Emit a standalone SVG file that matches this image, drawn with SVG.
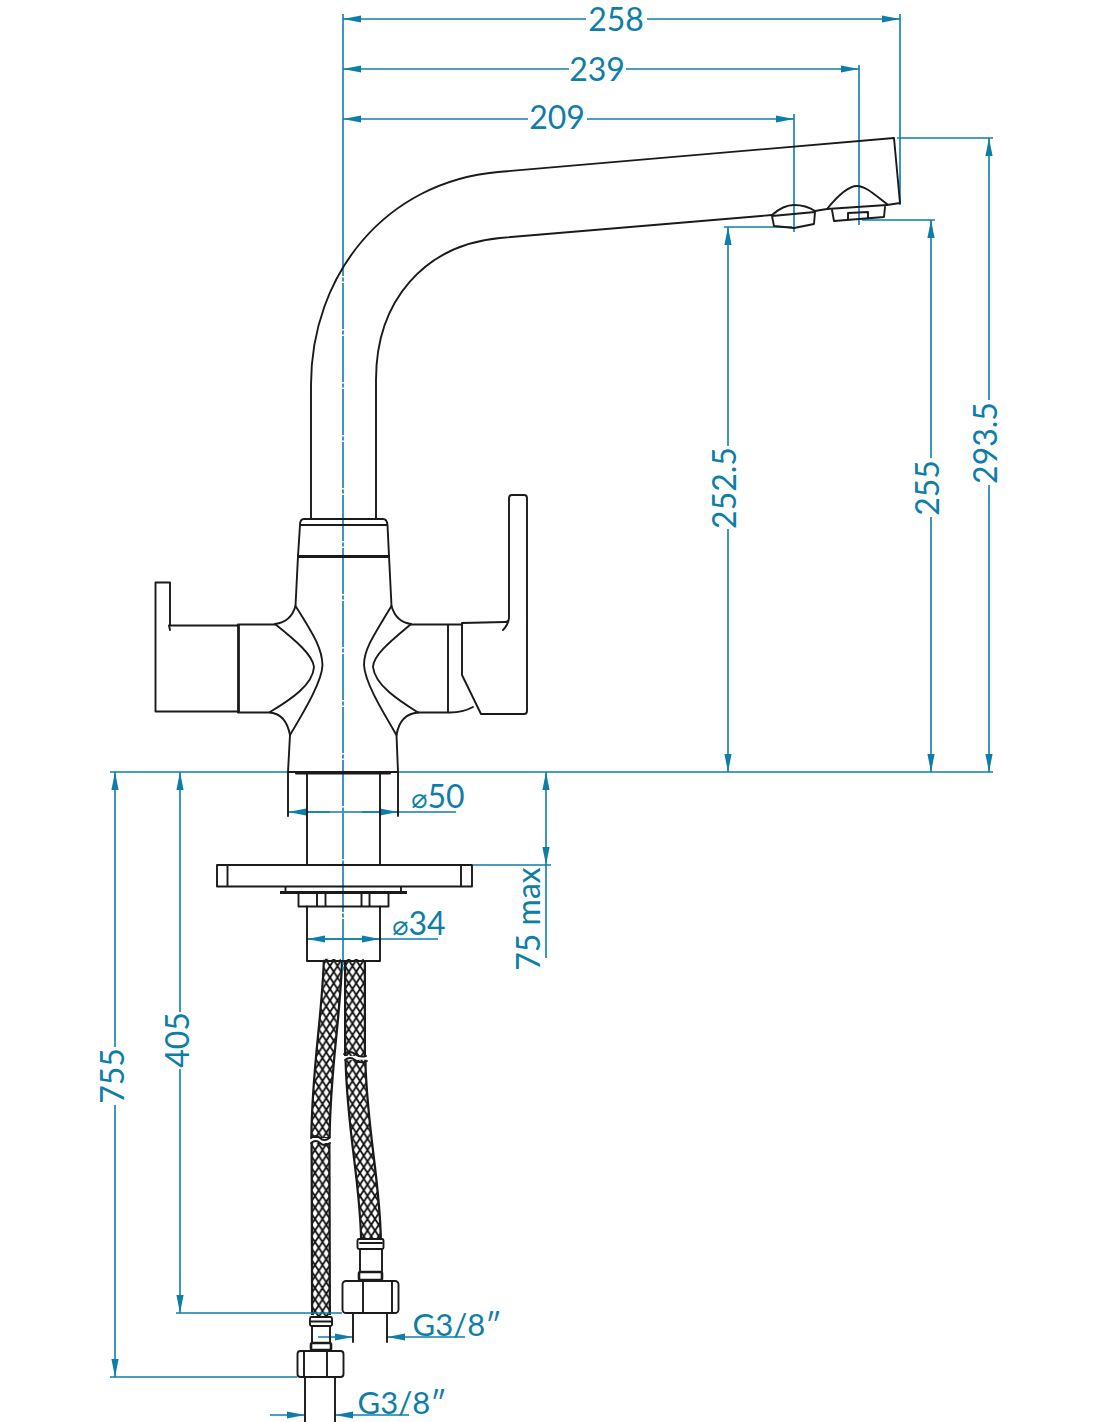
<svg xmlns="http://www.w3.org/2000/svg" width="1100" height="1422" viewBox="0 0 1100 1422">
<style>
.k{fill:none;stroke:#1a1a1a;stroke-width:1.9;stroke-linejoin:round;stroke-linecap:round}
.kw{fill:#fff;stroke:#1a1a1a;stroke-width:1.9}
.kd{fill:#fff;stroke:#1a1a1a;stroke-width:2.6}
.kt{fill:none;stroke:#1a1a1a;stroke-width:2.8;stroke-linecap:butt}
.d{fill:none;stroke:#0e7ea8;stroke-width:1.6}
.a{marker-end:url(#arr)}
.b{marker-start:url(#arrs);marker-end:url(#arr)}
.s{marker-start:url(#arrs)}
.t{font-family:"Lato","Open Sans","Liberation Sans",sans-serif;font-size:32px;fill:#0e7ea8;text-anchor:middle}
.g{font-size:31px}
.p{font-family:"DejaVu Sans",sans-serif;font-size:27px}
.hk{fill:none;stroke:#1a1a1a;stroke-linecap:butt}
.hm{fill:none;stroke:url(#mesh);stroke-linecap:butt}
</style>
<defs>
<marker id="arr" markerUnits="userSpaceOnUse" markerWidth="20" markerHeight="8" refX="18" refY="4" orient="auto"><path d="M0,0.4 L18,4 L0,7.6z" fill="#0e7ea8"/></marker>
<marker id="arrs" markerUnits="userSpaceOnUse" markerWidth="20" markerHeight="8" refX="0" refY="4" orient="auto"><path d="M18,0.4 L0,4 L18,7.6z" fill="#0e7ea8"/></marker>
<pattern id="mesh" patternUnits="userSpaceOnUse" width="7.500" height="11.500">
<rect width="7.500" height="11.500" fill="#fff"/>
<path d="M0,0 L7.500,11.500 M7.500,0 L0,11.500" stroke="#111" stroke-width="1.800" fill="none"/>
</pattern>
</defs>

<g id="hose-left">
<path class="hk" stroke-width="20.500" d="M333,960 C331,1020 321,1070 320.5,1138"/>
<path class="hm" stroke-width="16" d="M333,959 C331,1020 321,1070 320.5,1137"/>
<path class="hk" stroke-width="20" d="M320.500,1143 L321,1315"/>
<path class="hm" stroke-width="15.500" d="M320.500,1143 L321,1316"/>
<path class="k" d="M311,1138 Q316,1134 320,1138 T329.500,1138 M311,1143 Q316,1139 320,1143 T330,1143"/>
</g>
<g id="hose-right">
<path class="hk" stroke-width="22" d="M355,960 L355,1056"/>
<path class="hm" stroke-width="17.500" d="M355,959 L355,1056"/>
<path class="hk" stroke-width="22" d="M355.500,1060 C357,1130 370,1180 371,1240"/>
<path class="hm" stroke-width="17.500" d="M355.500,1060 C357,1130 370,1180 371,1241"/>
<path class="k" d="M344,1054 Q350,1050 355,1054 T366,1056 M345,1060 Q350,1056 355,1060 T367,1061"/>
</g>

<g id="connectors">
<path class="d" d="M343,14V230"/>
<path class="d" stroke-dasharray="46 1.500 4 1.500" d="M343,230V972"/>
<path class="d s" d="M343,19H586"/><path class="d a" d="M647,19H900"/>
<path class="d s" d="M343,69H569"/><path class="d a" d="M626,69H859"/>
<path class="d s" d="M343,119H528"/><path class="d a" d="M587,119H794"/>
<path class="d" d="M900,14V205M859,65V225M794,114V232"/>
<path class="d" d="M897,138H993M862,220H935M724,227H792M110,772H288M398,772H993"/>
<path class="d s" d="M989,138V400"/><path class="d a" d="M989,485V772"/>
<path class="d s" d="M931,220V458"/><path class="d a" d="M931,517V772"/>
<path class="d s" d="M728,227V446"/><path class="d a" d="M728,529V772"/>
<path class="d s" d="M115,772V1047"/><path class="d a" d="M115,1105V1377"/>
<path class="d s" d="M180,772V1012"/><path class="d a" d="M180,1069V1313"/>
<path class="d" d="M176,1313H342M110,1377H297"/>
<path class="d b" d="M546,772V865"/><path class="d" d="M473,865H551M546,865V958"/>
<path class="d s" d="M288,812H330"/><path class="d" d="M307,812H456"/><path class="d a" d="M362,812H398"/>
<path class="d s" d="M307,939H345"/><path class="d" d="M307,939H438"/><path class="d a" d="M345,939H380"/>
<path class="d a" d="M318,1337H353"/><path class="d s" d="M387,1337H465"/>
<path class="d a" d="M270,1415H305"/><path class="d s" d="M335,1415H409"/>
<path class="k" stroke-width="1.400" d="M288,773V816M398,773V816M353,1314V1342M387,1314V1342M305,1378V1422M335,1378V1422"/>
<text class="t" x="616" y="31">258</text>
<text class="t" x="597" y="81">239</text>
<text class="t" x="557" y="129">209</text>
<text class="t" transform="translate(997,443) rotate(-90)">293.5</text>
<text class="t" transform="translate(939,488) rotate(-90)">255</text>
<text class="t" transform="translate(736,488) rotate(-90)">252.5</text>
<text class="t" transform="translate(124,1076) rotate(-90)">755</text>
<text class="t" transform="translate(189,1040) rotate(-90)">405</text>
<text class="t" transform="translate(540,919) rotate(-90)">75 max</text>
<text class="t" x="438" y="808"><tspan class="p">⌀</tspan>50</text>
<text class="t" x="419" y="935"><tspan class="p">⌀</tspan>34</text>
<text class="t g" x="457" y="1336">G3/8″</text>
<text class="t g" x="402" y="1414">G3/8″</text>
</g>

<g id="spout">
<path class="k" d="M311,519V385C311,275 385,182 498,172L894,138L900,203L887,205"/>
<path class="k" d="M376,519V380C376,300 425,245 500,238L772,215"/>
<path class="k" d="M815,211L827,209"/>
</g>
<g id="nozzle-left">
<path class="k" stroke-width="2.200" d="M772,215C781,207 788,205 794,205C802,205 809,207 815,211"/>
<path class="k" d="M772,216L815,212M772,216L774,226L794,228L814,224L815,212"/>
</g>
<g id="nozzle-right">
<path class="k" stroke-width="2.400" d="M827,209C840,193 849,186 857,186C866,186 876,196 887,204"/>
<path class="k" d="M827,209L887,205M832,210L834,221L884,217L885,207M848,220V213L868,212V218"/>
</g>
<g id="body">
<path class="k" d="M300,525Q300,519 304,519H383Q387,519 387.500,525M300,525H387.500M300,525L298,556M387.500,525L389,556"/>
<path class="kt" d="M297,556.500H390"/>
<path class="k" d="M298,556L295.500,606M389,556L391.500,606"/>
<path class="k" d="M295.500,606Q291,622 275,624M295.500,606C316,638 322,650 322.500,665C322,680 308,705 290,735"/>
<path class="k" d="M275,624C295,640 313,655 314,667C313,685 290,700 270,712"/>
<path class="k" d="M270,712.500Q286,714 290,735L288,772H398L396.500,735Q400,714 418,712.500"/>
<path class="k" d="M391.500,606Q396,622 411,624M391.500,606C372,638 364,650 364,665C365,682 380,707 396.500,735"/>
<path class="k" d="M411,624C392,640 373,655 373,667C375,685 398,700 418,712.500"/>
<path class="k" d="M307,772V865M380,772V865M296,773.500H390"/>
</g>
<g id="handle-left">
<path class="k" d="M275,624.500H238M170,625.500H238M170,630L169,625.500M170,625.500V582.500H155.500V711.500H238M238,712.500H270"/>
<path class="kt" d="M238.500,624V713"/>
</g>
<g id="handle-right">
<path class="k" d="M411,624.500H462M448,624.500V712.500M418,712.500H448Q462,713 473,707"/>
<path class="k" d="M462,623L505,622Q509,622 509,618V498Q509,495 512,495H524Q527,495 527,498V711Q527,714 524,714H481L462,675V623M509,618Q508,625 503,630"/>
</g>
<g id="plate">
<path class="k" d="M217,865H472V886.500H217ZM227.500,865V886.500M461,865V886.500"/>
<path class="k" d="M285.500,887V892M401,887V892"/>
<path class="kt" stroke-width="2.400" d="M280,892.500H407"/>
<path class="k" d="M298.500,893V906.500H388.500V893M317,893V906.500M325.500,893V906.500M361.500,893V906.500M369.500,893V906.500"/>
<path class="k" d="M307,906.500V961H380V906.500"/>
</g>
<g id="fitting-right">
<rect x="357.500" y="1239" width="26" height="10" rx="1.500" class="kw"/>
<path class="k" d="M360,1249V1272M382,1249V1272M360,1243H382"/>
<rect x="359" y="1272" width="23" height="8" rx="1.500" class="kd"/>
<rect x="342.500" y="1281" width="56" height="32" rx="3.500" class="kw"/>
<path class="k" d="M363,1281V1313M392,1281V1313"/>
</g>
<g id="fitting-left">
<rect x="310" y="1317" width="22" height="9" rx="1.500" class="kw"/>
<path class="k" d="M312,1326V1343M330,1326V1343M310,1321.500H332"/>
<rect x="311" y="1343" width="20" height="7" rx="1.500" class="kd"/>
<rect x="297.500" y="1351" width="46" height="26" rx="3" class="kw"/>
<path class="k" d="M304,1351V1377M327,1351V1377"/>
</g>
</svg>
